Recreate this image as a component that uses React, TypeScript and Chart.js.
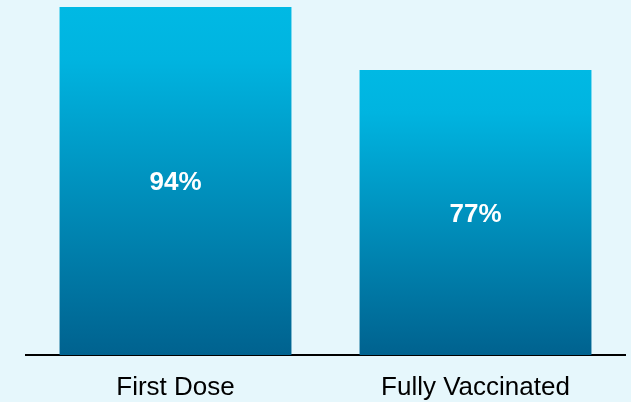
import React, { useEffect, useRef } from "react";
import { Chart, registerables } from "chart.js";

Chart.register(...registerables);

const categories = ["First Dose", "Fully Vaccinated"];
const values = [94, 77];
const valueLabels = ["94%", "77%"];

const FONT = "'Liberation Sans', Arial, sans-serif";

export default function App() {
  const ref = useRef<HTMLCanvasElement | null>(null);

  useEffect(() => {
    if (!ref.current) return;
    const labelPlugin = {
      id: "barLabels",
      afterDatasetsDraw(chart: any) {
        const ctx = chart.ctx;
        const meta = chart.getDatasetMeta(0);
        ctx.save();
        ctx.fillStyle = "#ffffff";
        ctx.font = `bold 26px ${FONT}`;
        ctx.textAlign = "center";
        ctx.textBaseline = "middle";
        meta.data.forEach((el: any, i: number) => {
          const midY = (el.y + el.base) / 2 + 2;
          ctx.fillText(valueLabels[i], el.x, midY);
        });
        ctx.restore();
      },
    };
    const chart = new Chart(ref.current, {
      type: "bar",
      data: {
        labels: categories,
        datasets: [
          {
            data: values,
            backgroundColor: (c: any) => {
              const chartObj = c.chart;
              const area = chartObj.chartArea;
              if (!area || c.raw === undefined) return "#0090c0";
              const yScale = chartObj.scales.y;
              const top = yScale.getPixelForValue(c.raw);
              const bottom = yScale.getPixelForValue(0);
              const g = chartObj.ctx.createLinearGradient(0, top, 0, bottom);
              g.addColorStop(0, "#00b9e4");
              g.addColorStop(0.15, "#00b4e0");
              g.addColorStop(1, "#00628f");
              return g;
            },
            borderWidth: 0,
            barPercentage: 0.773,
            categoryPercentage: 1,
          },
        ],
      },
      options: {
        responsive: false,
        animation: false,
        devicePixelRatio: 1,
        layout: { padding: { left: 25.5, right: 5.5, top: 7, bottom: 0 } },
        plugins: {
          legend: { display: false },
          tooltip: { enabled: false },
        },
        scales: {
          x: {
            grid: { display: false, drawTicks: false },
            border: { display: true, color: "#000000", width: 2 },
            ticks: {
              color: "#000000",
              padding: 17,
              font: { family: FONT, size: 26 },
            },
            afterFit: (s: any) => {
              s.height = 47;
            },
          },
          y: {
            display: false,
            min: 0,
            max: 94,
          },
        },
      },
      plugins: [labelPlugin],
    });
    return () => chart.destroy();
  }, []);

  return (
    <div
      style={{
        position: "fixed",
        left: 0,
        top: 0,
        width: 631,
        height: 402,
        background: "#e6f7fc",
      }}
    >
      <canvas ref={ref} width={631} height={402} style={{ display: "block" }} />
    </div>
  );
}
